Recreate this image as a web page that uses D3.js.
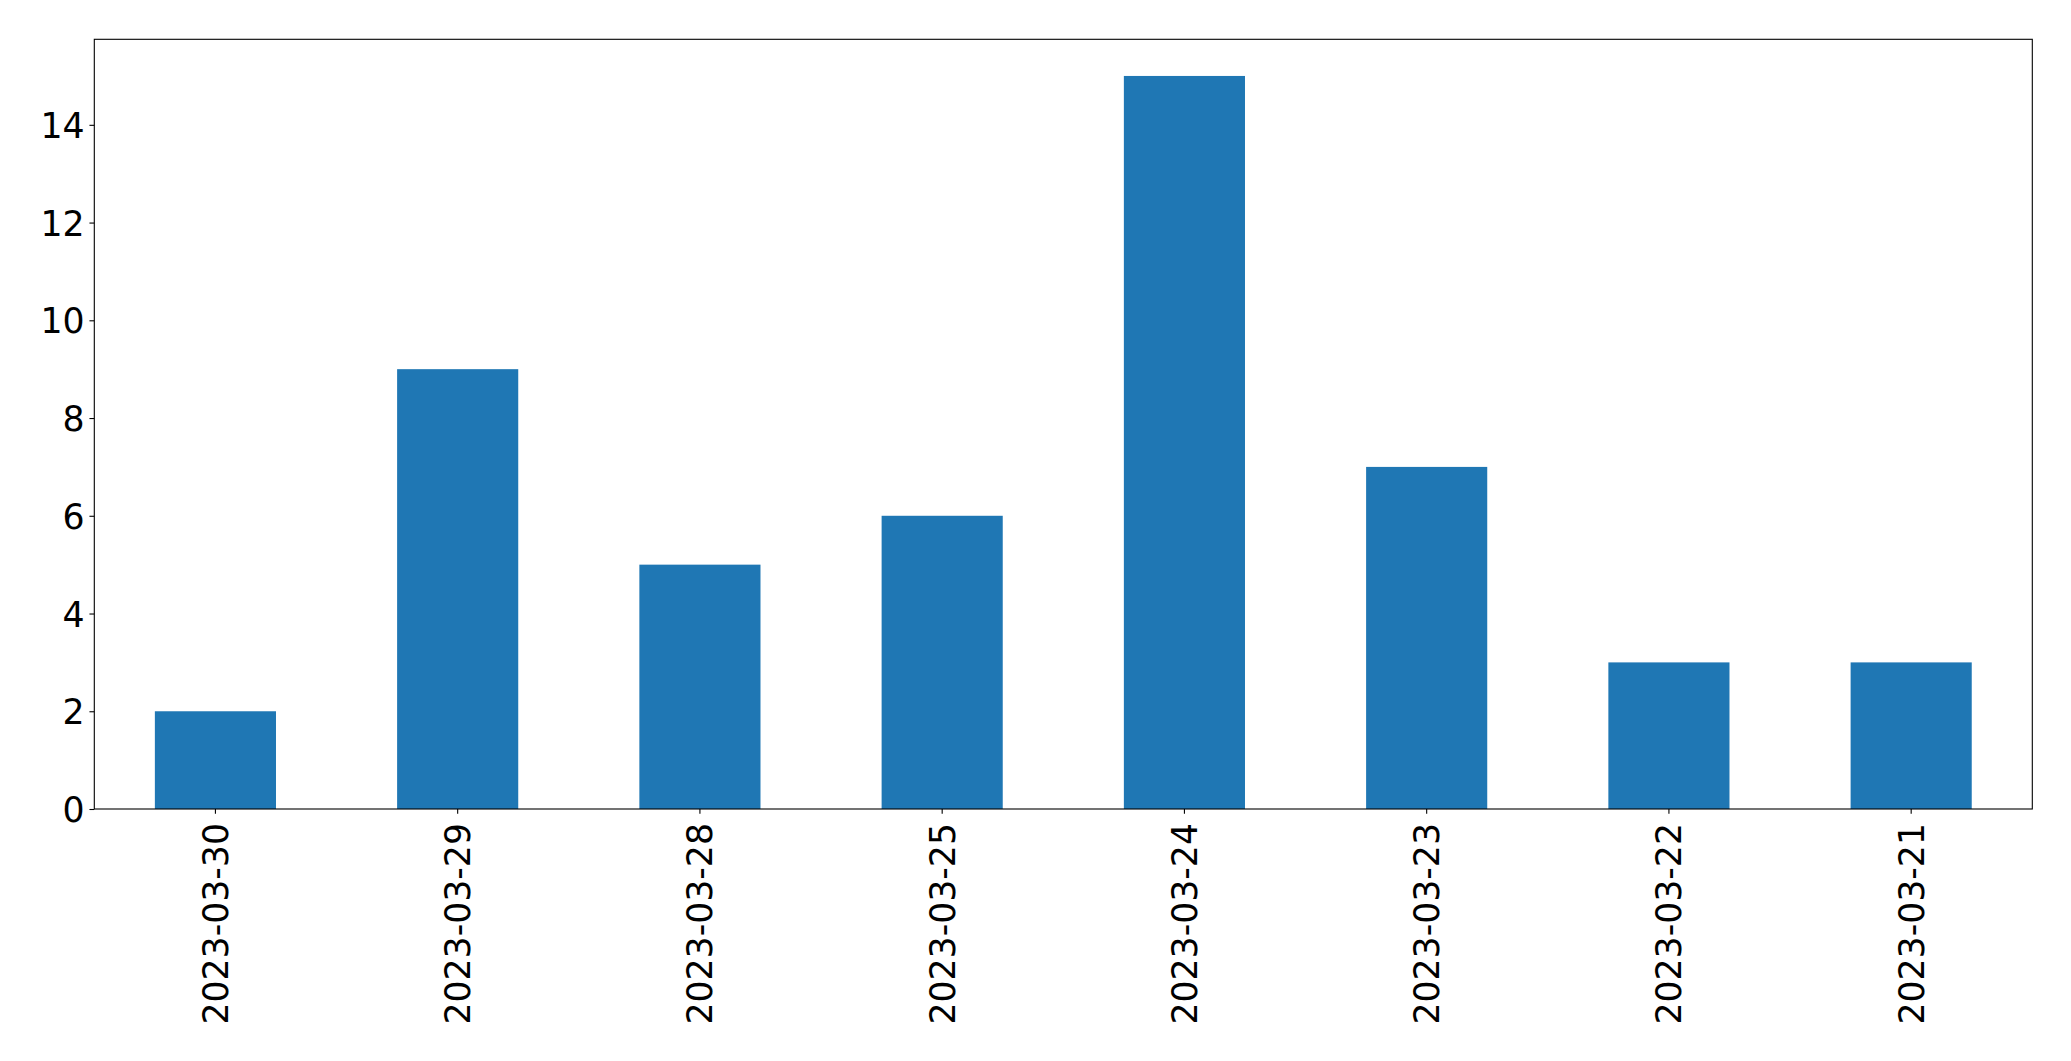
<!DOCTYPE html>
<html><head><meta charset="utf-8">
<script src="https://cdn.jsdelivr.net/npm/d3@7"></script>
<style>html,body{margin:0;padding:0;background:#fff;}svg{display:block;}</style>
</head><body>
<script>
const categories = ["2023-03-30","2023-03-29","2023-03-28","2023-03-25","2023-03-24","2023-03-23","2023-03-22","2023-03-21"];
const values = [2, 9, 5, 6, 15, 7, 3, 3];
const yTicks = [0, 2, 4, 6, 8, 10, 12, 14];

(function () {
const W = 2071, H = 1061;
const mL = 94.3, mR = 2032.3, mT = 39.3, mB = 809;
const fs = 34.7;
const svg = d3.select("body").append("svg").attr("width", W).attr("height", H);

const x = d3.scaleBand().domain(categories).range([mL, mR]).paddingInner(0.5).paddingOuter(0.25);
const y = d3.scaleLinear().domain([0, 15.75]).range([mB, mT]);

svg.append("g").selectAll("rect").data(values).join("rect")
  .attr("x", (d, i) => x(categories[i]))
  .attr("width", x.bandwidth())
  .attr("y", d => y(d))
  .attr("height", d => y(0) - y(d))
  .attr("fill", "#1f77b4");

const yAxis = svg.append("g").attr("transform", `translate(${mL},0)`)
  .call(d3.axisLeft(y).tickValues(yTicks).tickSize(4.86).tickPadding(4.86).tickFormat(d3.format("d")));
yAxis.select(".domain").remove();
yAxis.selectAll("line").attr("stroke", "#000").attr("stroke-width", 1.1);
yAxis.selectAll("text").attr("font-family", "DejaVu Sans").attr("font-size", fs).attr("fill", "#000").attr("dy", "0.36em");

const xAxis = svg.append("g").attr("transform", `translate(0,${mB})`)
  .call(d3.axisBottom(x).tickSize(4.86).tickPadding(0));
xAxis.select(".domain").remove();
xAxis.selectAll("line").attr("stroke", "#000").attr("stroke-width", 1.1);
xAxis.selectAll("text")
  .attr("font-family", "DejaVu Sans").attr("font-size", fs).attr("fill", "#000")
  .attr("text-anchor", "end")
  .attr("y", 0).attr("dy", "0.36em")
  .attr("transform", "translate(0,14) rotate(-90)");

svg.append("rect").attr("x", mL).attr("y", mT).attr("width", mR - mL).attr("height", mB - mT)
  .attr("fill", "none").attr("stroke", "#000").attr("stroke-width", 1.1);
})();
</script>
</body></html>
